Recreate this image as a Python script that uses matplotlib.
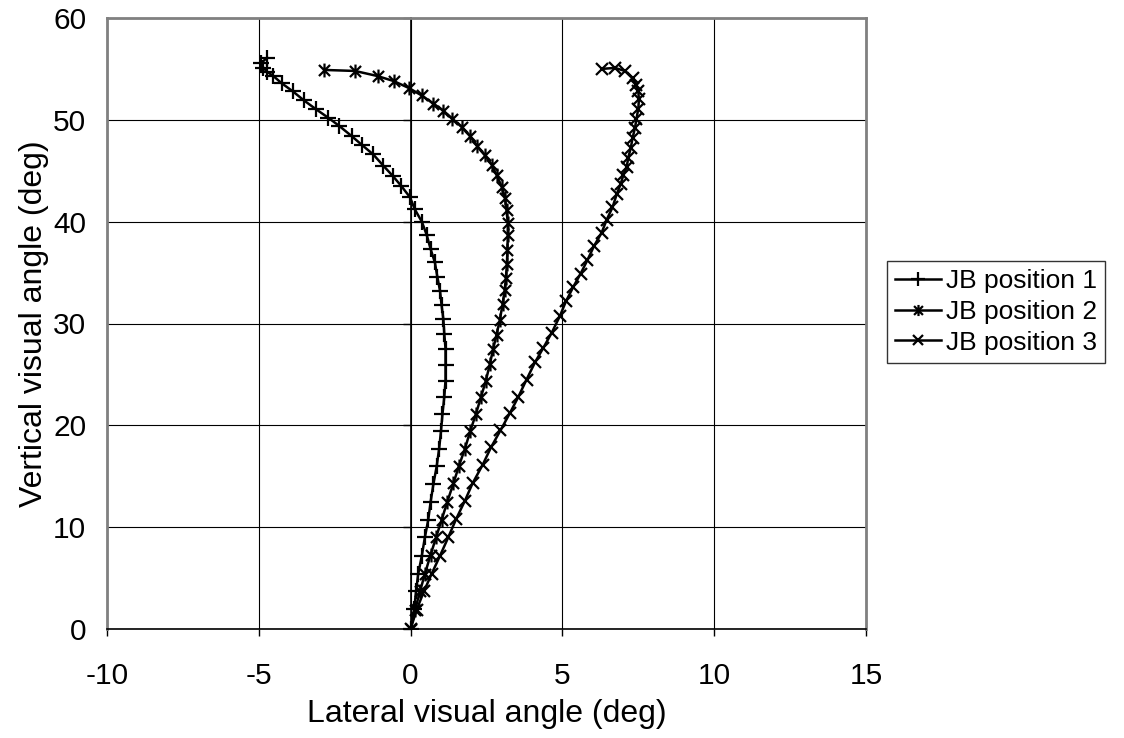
import matplotlib

matplotlib.use("Agg")
import matplotlib.pyplot as plt
from matplotlib.path import Path

plt.rcParams["font.family"] = ["Liberation Sans", "DejaVu Sans"]
plt.rcParams["axes.unicode_minus"] = False

# JB position 1 (lateral, vertical) in deg
pos1_x = [0.0, 0.12, 0.18, 0.25, 0.37, 0.47, 0.58, 0.66, 0.75, 0.86, 0.94, 1.0, 1.05, 1.11,
          1.15, 1.15, 1.15, 1.11, 1.08, 1.02, 0.97, 0.88, 0.80, 0.66, 0.53, 0.37, 0.14, -0.02,
          -0.32, -0.59, -0.90, -1.23, -1.59, -1.94, -2.35, -2.71, -3.12, -3.51, -3.88, -4.25,
          -4.52, -4.72, -4.85, -4.92, -4.72]
pos1_y = [0.0, 2.0, 3.7, 5.4, 7.2, 9.0, 10.7, 12.5, 14.2, 16.0, 17.7, 19.4, 21.1, 22.8,
          24.4, 25.9, 27.5, 29.0, 30.4, 31.8, 33.2, 34.6, 36.0, 37.3, 38.7, 40.0, 41.2, 42.4,
          43.55, 44.5, 45.5, 46.6, 47.5, 48.4, 49.4, 50.2, 51.05, 51.9, 52.8, 53.6,
          54.3, 54.7, 55.1, 55.6, 56.1]

# JB position 2
pos2_x = [0.0, 0.15, 0.31, 0.47, 0.66, 0.84, 1.02, 1.21, 1.41, 1.59, 1.79, 1.96, 2.15, 2.32,
          2.48, 2.61, 2.72, 2.83, 2.94, 3.03, 3.10, 3.14, 3.17, 3.19, 3.20, 3.20, 3.16, 3.11,
          3.0, 2.83, 2.67, 2.45, 2.2, 1.96, 1.68, 1.38, 1.08, 0.75, 0.36, -0.04, -0.55, -1.09,
          -1.83, -2.84]
pos2_y = [0.0, 1.9, 3.7, 5.4, 7.3, 9.0, 10.7, 12.5, 14.3, 16.0, 17.7, 19.4, 21.1, 22.8,
          24.4, 26.0, 27.5, 28.9, 30.35, 31.9, 33.3, 34.5, 35.8, 37.2, 38.7, 39.9, 41.1, 42.3,
          43.45, 44.6, 45.6, 46.5, 47.4, 48.4, 49.3, 50.1, 50.9, 51.6, 52.4, 53.1, 53.8, 54.3,
          54.8, 54.9]

# JB position 3
pos3_x = [0.0, 0.2, 0.44, 0.69, 0.97, 1.24, 1.5, 1.79, 2.04, 2.37, 2.65, 2.96, 3.27, 3.55,
          3.82, 4.1, 4.37, 4.65, 4.92, 5.12, 5.36, 5.6, 5.82, 6.04, 6.29, 6.46, 6.65, 6.79,
          6.92, 7.01, 7.12, 7.17, 7.25, 7.31, 7.39, 7.44, 7.5, 7.52, 7.5, 7.44, 7.31, 7.06,
          6.73, 6.29]
pos3_y = [0.0, 1.9, 3.7, 5.4, 7.2, 9.0, 10.8, 12.6, 14.3, 16.1, 17.85, 19.5, 21.2, 22.8,
          24.5, 26.2, 27.6, 29.1, 30.75, 32.2, 33.6, 34.9, 36.2, 37.6, 38.9, 40.2, 41.4, 42.7,
          43.7, 44.6, 45.4, 46.3, 47.2, 48.2, 49.2, 50.1, 51.1, 52.0, 52.8, 53.4, 54.1, 54.8,
          55.1, 55.0]

x_ticks = [-10, -5, 0, 5, 10, 15]
y_ticks = [0, 10, 20, 30, 40, 50, 60]

# Excel-style asterisk: an x with a vertical stroke through it
asterisk = Path(
    [(-1, -1), (1, 1), (-1, 1), (1, -1), (0, -1.25), (0, 1.25)],
    [Path.MOVETO, Path.LINETO, Path.MOVETO, Path.LINETO, Path.MOVETO, Path.LINETO],
)

fig = plt.figure(figsize=(11.24, 7.38), dpi=100)
ax = fig.add_axes([107 / 1124, 1 - 629 / 738, (866 - 107) / 1124, (629 - 18) / 738])

ax.set_xlim(-10, 15)
ax.set_ylim(0, 60)
ax.set_xticks(x_ticks)
ax.set_yticks(y_ticks)
ax.grid(True, color="black", linewidth=0.8)
ax.set_axisbelow(True)

for side in ["left", "top", "right"]:
    ax.spines[side].set_color("#808080")
    ax.spines[side].set_linewidth(2)
ax.spines["bottom"].set_color("black")
ax.spines["bottom"].set_linewidth(1.2)

ax.tick_params(axis="y", length=0, labelsize=21.5, pad=15)
ax.tick_params(axis="x", direction="out", length=5, width=1, labelsize=21.5, pad=19)

# vertical axis crosses at x = 0 (ticks only, labels stay on the left)
sec = ax.secondary_yaxis(0.4)
sec.set_yticks(y_ticks)
sec.tick_params(direction="out", length=6, width=1, labelleft=False, labelright=False)
sec.spines["left"].set_color("black")
sec.spines["left"].set_linewidth(1.2)

line_kw = dict(color="black", linewidth=1.8, markeredgewidth=1.6)
ax.plot(pos1_x, pos1_y, marker="+", markersize=12, label="JB position 1", **line_kw)
ax.plot(pos2_x, pos2_y, marker=asterisk, markersize=10, label="JB position 2", **line_kw)
ax.plot(pos3_x, pos3_y, marker="x", markersize=9, label="JB position 3", **line_kw)

ax.set_xlabel("Lateral visual angle (deg)", fontsize=23, labelpad=6)
ax.set_ylabel("Vertical visual angle (deg)", fontsize=23, labelpad=3)

leg = fig.legend(loc="center left", bbox_to_anchor=(887 / 1124, 1 - 312 / 738),
                 fontsize=19, frameon=True, fancybox=False, edgecolor="black",
                 handlelength=1.75, handletextpad=0.2, borderpad=0.3, labelspacing=0.25,
                 borderaxespad=0, markerscale=0.8)
leg.get_frame().set_linewidth(1.0)

fig.savefig("out.png", dpi=100)
